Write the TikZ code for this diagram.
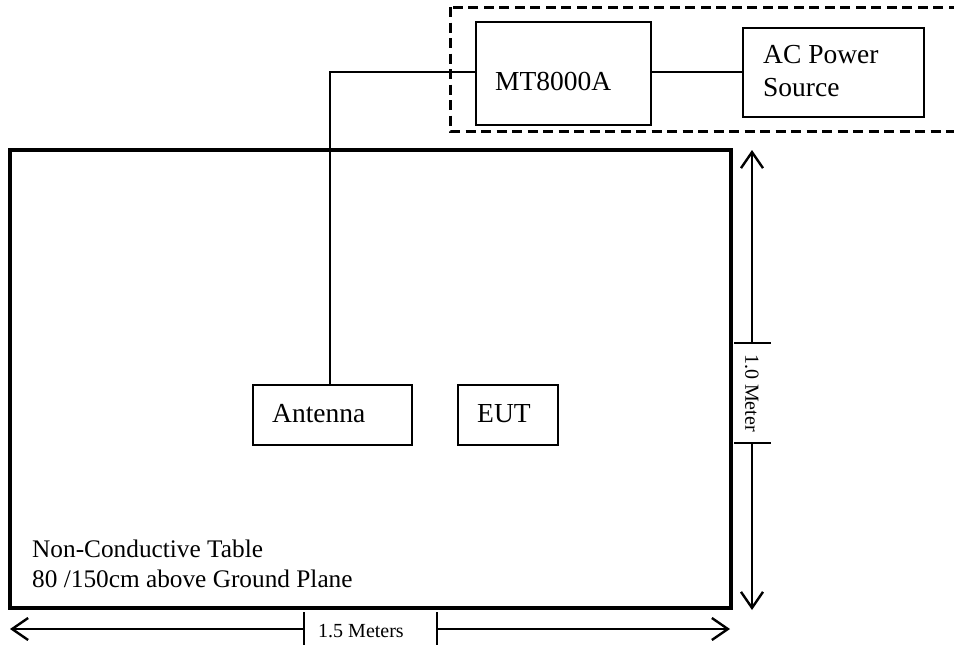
\documentclass[tikz,border=0pt]{standalone}
\usepackage{fontspec}
\setmainfont{Liberation Serif}
\usetikzlibrary{arrows.meta}
\begin{document}
\begin{tikzpicture}[x=1pt,y=-1pt,
  boxnode/.style={draw=black, line width=2.4pt, inner sep=0pt, minimum width=#1},
  lbl/.style={inner sep=0pt, font=\fontsize{27.5}{33}\selectfont, align=left},
  small/.style={inner sep=0pt, font=\fontsize{20}{24}\selectfont},
  note/.style={inner sep=0pt, font=\fontsize{25.3}{30}\selectfont, align=left},
  wire/.style={line width=2.2pt},
  dimarrow/.style={line width=2.2pt, -{Straight Barb[length=16pt,width=22pt,line width=2.4pt]}},
  tick/.style={line width=2.4pt}
]
\useasboundingbox (0,0) rectangle (954,645);
\fill[white] (0,0) rectangle (954,645);

% dashed enclosure
\draw[line width=3pt, dash pattern=on 10pt off 5.5pt] (450,7) rectangle (960,131);

% table
\draw[line width=3.4pt] (10,150) rectangle (731,608);

% boxes
\node[boxnode=175pt, minimum height=103pt] (mt) at (563.5,73.5) {};
\node[boxnode=181pt, minimum height=89pt] (ac) at (833.5,72.5) {};
\node[boxnode=159pt, minimum height=60pt] (ant) at (332.5,415) {};
\node[boxnode=100pt, minimum height=60pt] (eut) at (508,415) {};

% labels
\node[lbl, anchor=base west] (mtl) at (495,90) {MT8000A};
\node[lbl, anchor=north west] (acl) at (763,45.5) {AC Power\\Source};
\node[lbl, anchor=base west] (antl) at (272,422) {Antenna};
\node[lbl, anchor=base west] (eutl) at (477,422) {EUT};
\node[note, anchor=north west] (tbl) at (32,540) {Non-Conductive Table\\80 /150cm above Ground Plane};

% connectors
\coordinate (bend) at (330,72);
\draw[wire] (mt.west |- 0,72) -- (bend) -- (bend |- ant.north);
\draw[wire] (mt.east |- 0,72) -- (ac.west |- 0,72);

% vertical dimension
\coordinate (vt1) at (752,343);
\coordinate (vt2) at (752,443);
\coordinate (vtop) at (752,150);
\coordinate (vbot) at (752,610);
\draw[dimarrow] (vt1) -- (vtop);
\draw[dimarrow] (vt2) -- (vbot);
\draw[tick] (734,343) -- (771,343);
\draw[tick] (734,443) -- (771,443);
\node[small, rotate=-90] (vlab) at (752,393) {1.0 Meter};

% horizontal dimension
\coordinate (ht1) at (304,629);
\coordinate (ht2) at (437,629);
\coordinate (hleft) at (10,629);
\coordinate (hright) at (730,629);
\draw[dimarrow] (ht1) -- (hleft);
\draw[dimarrow] (ht2) -- (hright);
\draw[tick] (304,612) -- (304,645);
\draw[tick] (437,612) -- (437,645);
\node[small] (hlab) at (361,631) {1.5 Meters};
\end{tikzpicture}
\end{document}
